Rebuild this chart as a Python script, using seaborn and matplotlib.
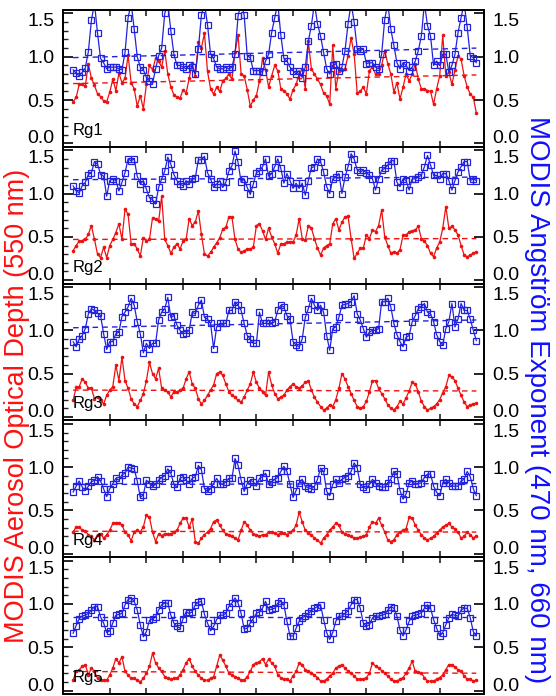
import numpy as np
import pandas as pd
import matplotlib
matplotlib.use('Agg')
import matplotlib.pyplot as plt
import seaborn as sns
from matplotlib.ticker import MultipleLocator, FormatStrFormatter

sns.set_theme(style='ticks')
plt.rcParams['font.family'] = ['Liberation Sans Narrow', 'Liberation Sans', 'DejaVu Sans']

# monthly index, 133 months
months = np.arange(133)
regions = ['Rg1', 'Rg2', 'Rg3', 'Rg4', 'Rg5']

# MODIS AOD (550 nm), red
aod_rg1 = [0.48, 0.53, 0.68, 0.68, 0.66, 0.92, 0.75, 0.67, 0.57, 0.54, 0.49, 0.48,
           0.59, 0.74, 0.61, 0.81, 0.70, 0.75, 1.02, 0.70, 0.63, 0.43, 0.55, 0.40,
           0.68, 0.90, 0.85, 0.98, 0.95, 0.88, 1.07, 0.80, 0.65, 0.56, 0.53, 0.52,
           0.62, 0.58, 0.75, 0.93, 0.78, 1.17, 1.10, 1.27, 0.83, 0.63, 0.57, 0.65,
           0.60, 0.72, 0.75, 0.80, 0.74, 1.05, 1.25, 0.80, 0.78, 0.62, 0.43, 0.50,
           0.55, 0.72, 0.98, 0.85, 0.65, 0.78, 0.90, 0.84, 0.63, 0.61, 0.57, 0.51,
           0.62, 0.68, 0.80, 0.86, 0.63, 1.18, 0.86, 0.80, 0.74, 0.68, 0.58, 0.55,
           0.45, 1.13, 0.63, 0.84, 0.85, 0.86, 1.01, 1.22, 1.03, 0.58, 0.60, 0.65,
           0.57, 0.84, 0.88, 0.80, 0.80, 0.90, 1.07, 0.92, 0.80, 0.59, 0.70, 0.51,
           0.65, 0.80, 0.72, 0.80, 0.92, 0.74, 0.63, 0.63, 0.61, 0.60, 0.45, 0.63,
           0.78, 1.25, 0.78, 0.82, 0.68, 0.85, 1.01, 0.97, 0.78, 0.65, 0.57, 0.53,
           0.35]
aod_rg2 = [0.34, 0.40, 0.45, 0.45, 0.47, 0.53, 0.63, 0.47, 0.30, 0.26, 0.38, 0.26,
           0.40, 0.47, 0.55, 0.65, 0.47, 0.82, 0.76, 0.42, 0.42, 0.36, 0.28, 0.49,
           0.45, 0.47, 0.72, 0.71, 0.68, 0.97, 0.47, 0.40, 0.31, 0.38, 0.42, 0.36,
           0.45, 0.47, 0.71, 0.63, 0.67, 0.80, 0.53, 0.30, 0.28, 0.32, 0.38, 0.43,
           0.49, 0.59, 0.61, 0.73, 0.73, 0.47, 0.36, 0.32, 0.34, 0.36, 0.36, 0.38,
           0.63, 0.65, 0.57, 0.47, 0.60, 0.50, 0.42, 0.31, 0.42, 0.42, 0.44, 0.44,
           0.44, 0.52, 0.71, 0.48, 0.46, 0.63, 0.60, 0.48, 0.37, 0.29, 0.37, 0.40,
           0.42, 0.65, 0.71, 0.58, 0.67, 0.73, 0.74, 0.48, 0.25, 0.31, 0.37, 0.37,
           0.52, 0.48, 0.58, 0.56, 0.63, 0.81, 0.50, 0.40, 0.31, 0.33, 0.31, 0.35,
           0.52, 0.52, 0.56, 0.57, 0.58, 0.62, 0.48, 0.45, 0.40, 0.31, 0.27, 0.37,
           0.44, 0.60, 0.85, 0.60, 0.62, 0.58, 0.52, 0.40, 0.29, 0.27, 0.29, 0.31,
           0.33]
aod_rg3 = [0.19, 0.34, 0.35, 0.44, 0.40, 0.33, 0.33, 0.21, 0.23, 0.19, 0.15, 0.25,
           0.31, 0.35, 0.60, 0.42, 0.69, 0.42, 0.33, 0.21, 0.15, 0.12, 0.19, 0.27,
           0.42, 0.63, 0.50, 0.44, 0.56, 0.33, 0.31, 0.29, 0.23, 0.29, 0.29, 0.31,
           0.33, 0.44, 0.52, 0.38, 0.33, 0.21, 0.15, 0.19, 0.25, 0.31, 0.37, 0.50,
           0.52, 0.48, 0.38, 0.29, 0.25, 0.23, 0.19, 0.17, 0.23, 0.31, 0.38, 0.52,
           0.40, 0.33, 0.29, 0.25, 0.52, 0.37, 0.27, 0.21, 0.23, 0.25, 0.31, 0.35,
           0.38, 0.35, 0.33, 0.36, 0.40, 0.42, 0.31, 0.23, 0.17, 0.12, 0.08, 0.10,
           0.14, 0.12, 0.20, 0.33, 0.50, 0.44, 0.35, 0.27, 0.19, 0.12, 0.10, 0.12,
           0.18, 0.29, 0.42, 0.42, 0.33, 0.27, 0.21, 0.14, 0.10, 0.08, 0.12, 0.18,
           0.15, 0.22, 0.30, 0.40, 0.38, 0.29, 0.18, 0.12, 0.08, 0.10, 0.12, 0.15,
           0.20, 0.28, 0.35, 0.48, 0.46, 0.42, 0.33, 0.25, 0.17, 0.12, 0.14, 0.15,
           0.16]
aod_rg4 = [0.25, 0.31, 0.31, 0.27, 0.26, 0.22, 0.20, 0.16, 0.22, 0.23, 0.18, 0.22,
           0.27, 0.35, 0.36, 0.36, 0.33, 0.25, 0.22, 0.15, 0.25, 0.27, 0.25, 0.31,
           0.45, 0.42, 0.25, 0.14, 0.23, 0.21, 0.23, 0.23, 0.23, 0.25, 0.27, 0.35,
           0.41, 0.41, 0.31, 0.40, 0.14, 0.12, 0.18, 0.22, 0.25, 0.29, 0.37, 0.39,
           0.33, 0.27, 0.23, 0.22, 0.20, 0.18, 0.16, 0.27, 0.37, 0.33, 0.27, 0.23,
           0.22, 0.20, 0.22, 0.22, 0.25, 0.25, 0.24, 0.22, 0.24, 0.24, 0.22, 0.25,
           0.27, 0.33, 0.48, 0.37, 0.27, 0.24, 0.22, 0.18, 0.16, 0.12, 0.18, 0.22,
           0.27, 0.31, 0.35, 0.33, 0.25, 0.23, 0.22, 0.20, 0.18, 0.18, 0.19, 0.20,
           0.22, 0.31, 0.37, 0.35, 0.41, 0.33, 0.25, 0.16, 0.14, 0.16, 0.22, 0.25,
           0.27, 0.29, 0.42, 0.41, 0.33, 0.27, 0.22, 0.18, 0.16, 0.18, 0.20, 0.24,
           0.27, 0.31, 0.33, 0.35, 0.31, 0.28, 0.25, 0.18, 0.20, 0.25, 0.22, 0.18,
           0.21]
aod_rg5 = [0.12, 0.22, 0.24, 0.28, 0.30, 0.18, 0.26, 0.22, 0.14, 0.12, 0.12, 0.12,
           0.18, 0.26, 0.37, 0.32, 0.39, 0.22, 0.18, 0.14, 0.14, 0.12, 0.10, 0.14,
           0.20, 0.28, 0.43, 0.32, 0.26, 0.22, 0.16, 0.14, 0.13, 0.14, 0.14, 0.18,
           0.24, 0.32, 0.37, 0.28, 0.22, 0.18, 0.14, 0.12, 0.12, 0.14, 0.16, 0.28,
           0.41, 0.35, 0.28, 0.20, 0.18, 0.16, 0.14, 0.12, 0.12, 0.16, 0.22, 0.30,
           0.32, 0.33, 0.37, 0.30, 0.36, 0.32, 0.28, 0.18, 0.15, 0.13, 0.13, 0.11,
           0.17, 0.22, 0.32, 0.30, 0.24, 0.22, 0.20, 0.18, 0.15, 0.11, 0.11, 0.13,
           0.17, 0.20, 0.26, 0.28, 0.30, 0.26, 0.22, 0.20, 0.17, 0.13, 0.13, 0.13,
           0.15, 0.20, 0.32, 0.28, 0.26, 0.23, 0.20, 0.17, 0.13, 0.11, 0.11, 0.13,
           0.15, 0.20, 0.26, 0.34, 0.22, 0.21, 0.20, 0.15, 0.11, 0.11, 0.11, 0.13,
           0.15, 0.18, 0.24, 0.30, 0.30, 0.27, 0.24, 0.22, 0.17, 0.13, 0.13, 0.11,
           0.12]

# MODIS Angstrom exponent (470/660 nm), blue
ae_rg1 = [0.85, 0.81, 0.78, 0.82, 0.87, 1.06, 1.42, 1.62, 1.27, 0.98, 0.93, 0.86,
          0.88, 0.88, 0.88, 0.86, 0.85, 1.05, 1.45, 1.62, 1.32, 1.00, 0.88, 0.85,
          0.76, 0.72, 0.69, 0.86, 1.01, 1.10, 1.50, 1.62, 1.30, 1.03, 0.90, 0.90,
          0.88, 0.86, 0.90, 0.88, 0.80, 1.09, 1.48, 1.62, 1.37, 1.03, 0.98, 0.88,
          0.86, 0.86, 0.88, 0.86, 0.88, 1.03, 1.47, 1.62, 1.48, 1.01, 0.99, 0.84,
          0.84, 0.84, 0.82, 0.95, 1.03, 1.28, 1.45, 1.62, 1.25, 0.98, 0.95, 0.88,
          0.84, 0.80, 0.84, 0.76, 0.88, 1.18, 1.36, 1.62, 1.38, 1.24, 1.05, 0.86,
          0.80, 0.90, 0.92, 0.84, 0.88, 1.07, 1.38, 1.62, 1.40, 1.09, 1.07, 1.09,
          0.92, 0.93, 0.93, 0.88, 0.86, 1.03, 1.43, 1.62, 1.32, 1.13, 0.93, 0.86,
          0.93, 0.90, 0.84, 0.88, 0.95, 1.07, 1.24, 1.62, 1.36, 1.24, 0.90, 0.95,
          0.90, 1.03, 1.03, 0.82, 0.90, 1.03, 1.28, 1.45, 1.62, 1.34, 1.01, 0.99,
          0.93]
ae_rg2 = [1.09, 1.03, 1.01, 1.09, 1.13, 1.22, 1.24, 1.37, 1.34, 1.22, 1.20, 0.97,
          1.15, 1.17, 1.15, 1.03, 1.13, 1.24, 1.40, 1.38, 1.40, 1.20, 1.11, 1.15,
          1.05, 0.95, 0.93, 0.88, 1.07, 1.17, 1.26, 1.42, 1.34, 1.22, 1.15, 1.11,
          1.09, 1.15, 1.11, 1.17, 1.18, 1.39, 1.39, 1.43, 1.24, 1.17, 1.07, 1.11,
          1.15, 1.07, 1.13, 1.26, 1.32, 1.49, 1.36, 1.13, 1.17, 1.07, 0.99, 1.11,
          1.24, 1.26, 1.31, 1.40, 1.20, 1.23, 1.31, 1.40, 1.29, 1.12, 1.23, 1.15,
          1.06, 1.12, 1.06, 1.12, 0.98, 1.15, 1.30, 1.31, 1.40, 1.37, 1.25, 1.08,
          1.00, 1.17, 1.19, 1.23, 1.00, 1.19, 1.31, 1.46, 1.40, 1.27, 1.25, 1.27,
          1.24, 1.21, 1.17, 1.04, 1.17, 1.27, 1.29, 1.33, 1.38, 1.38, 1.13, 1.08,
          1.17, 1.15, 1.04, 1.17, 1.17, 1.19, 1.21, 1.31, 1.44, 1.33, 1.21, 1.21,
          1.17, 1.23, 1.23, 1.15, 1.04, 1.15, 1.25, 1.31, 1.37, 1.37, 1.15, 1.17,
          1.15]
ae_rg3 = [0.87, 0.81, 0.90, 0.94, 1.02, 1.19, 1.25, 1.23, 1.20, 1.17, 0.96, 0.78,
          0.87, 0.87, 0.96, 0.98, 1.16, 1.21, 1.27, 1.37, 1.29, 1.10, 0.96, 0.74,
          0.85, 0.79, 0.85, 0.85, 1.12, 1.21, 1.25, 1.38, 1.15, 1.17, 1.06, 1.00,
          0.96, 0.97, 1.00, 1.21, 1.19, 1.29, 1.35, 1.15, 1.13, 1.08, 0.79, 1.04,
          1.08, 1.08, 1.08, 1.23, 1.23, 1.33, 1.29, 1.23, 1.08, 0.94, 0.90, 0.85,
          0.85, 1.21, 1.08, 1.08, 1.12, 1.08, 1.10, 1.23, 1.29, 1.27, 1.17, 1.13,
          0.87, 0.83, 0.81, 0.90, 1.15, 1.25, 1.37, 1.29, 1.23, 1.29, 1.21, 0.94,
          0.77, 1.02, 1.04, 1.15, 1.29, 1.30, 1.31, 1.33, 1.40, 1.19, 1.12, 1.02,
          0.92, 0.98, 1.00, 1.00, 1.02, 1.33, 1.33, 1.37, 1.27, 1.08, 0.95, 0.87,
          0.81, 0.92, 0.94, 1.10, 1.17, 1.25, 1.27, 1.31, 1.21, 1.19, 1.10, 0.95,
          0.87, 0.83, 1.02, 1.10, 1.31, 1.04, 1.13, 1.31, 1.23, 1.23, 1.13, 1.00,
          0.88]
ae_rg4 = [0.71, 0.78, 0.84, 0.77, 0.73, 0.78, 0.83, 0.85, 0.89, 0.84, 0.75, 0.66,
          0.75, 0.81, 0.87, 0.85, 0.91, 0.93, 1.00, 0.99, 0.98, 0.84, 0.65, 0.68,
          0.85, 0.81, 0.78, 0.80, 0.85, 0.88, 0.90, 0.98, 0.93, 0.80, 0.77, 0.87,
          0.89, 0.85, 0.81, 0.87, 0.89, 1.02, 0.97, 0.75, 0.72, 0.75, 0.81, 0.87,
          0.81, 0.80, 0.83, 0.87, 0.87, 1.10, 1.02, 0.85, 0.72, 0.81, 0.85, 0.83,
          0.78, 0.87, 0.89, 0.93, 0.80, 0.83, 0.86, 0.88, 0.95, 1.01, 0.95, 0.80,
          0.65, 0.73, 0.82, 0.86, 0.78, 0.76, 0.75, 0.78, 0.86, 0.99, 0.95, 0.72,
          0.67, 0.80, 0.86, 0.82, 0.86, 0.88, 0.90, 0.95, 1.05, 0.99, 0.80, 0.77,
          0.75, 0.80, 0.86, 0.82, 0.78, 0.77, 0.77, 0.82, 0.86, 0.95, 0.92, 0.73,
          0.63, 0.69, 0.82, 0.84, 0.80, 0.81, 0.82, 0.88, 0.92, 0.92, 0.78, 0.71,
          0.67, 0.82, 0.86, 0.82, 0.78, 0.78, 0.78, 0.84, 0.86, 0.95, 0.89, 0.75,
          0.67]
ae_rg5 = [0.66, 0.75, 0.83, 0.86, 0.87, 0.89, 0.93, 0.97, 0.97, 0.85, 0.78, 0.67,
          0.69, 0.78, 0.87, 0.88, 0.89, 0.99, 1.05, 1.07, 1.03, 0.93, 0.76, 0.62,
          0.68, 0.81, 0.83, 0.85, 0.93, 0.99, 1.01, 1.01, 0.87, 0.78, 0.74, 0.72,
          0.83, 0.91, 0.89, 0.91, 0.99, 1.02, 1.03, 0.88, 0.78, 0.69, 0.74, 0.82,
          0.87, 0.87, 0.89, 0.97, 1.01, 1.07, 1.01, 0.89, 0.71, 0.72, 0.78, 0.83,
          0.89, 0.91, 0.95, 1.03, 0.93, 0.94, 0.95, 1.01, 1.03, 0.99, 0.80, 0.63,
          0.63, 0.72, 0.80, 0.84, 0.86, 0.89, 0.92, 0.95, 0.97, 0.99, 0.82, 0.67,
          0.59, 0.67, 0.80, 0.86, 0.86, 0.89, 0.92, 0.99, 1.05, 1.05, 0.95, 0.78,
          0.74, 0.76, 0.84, 0.86, 0.86, 0.87, 0.88, 0.93, 0.97, 0.95, 0.86, 0.70,
          0.63, 0.70, 0.80, 0.86, 0.87, 0.88, 0.90, 0.95, 0.99, 0.95, 0.82, 0.72,
          0.63, 0.67, 0.76, 0.84, 0.88, 0.87, 0.86, 0.93, 0.95, 0.95, 0.84, 0.68,
          0.63]

# dashed trend lines: value at first and last month
aod_trend_start = [0.69, 0.47, 0.31, 0.26, 0.22]
aod_trend_end = [0.79, 0.48, 0.30, 0.25, 0.20]
ae_trend_start = [0.99, 1.16, 1.03, 0.80, 0.85]
ae_trend_end = [1.10, 1.19, 1.12, 0.81, 0.85]

y_ticks = [0.0, 0.5, 1.0, 1.5]
x_ticks = [12, 24, 36, 48, 60, 72, 84, 96, 108, 120]

aod_all = [aod_rg1, aod_rg2, aod_rg3, aod_rg4, aod_rg5]
ae_all = [ae_rg1, ae_rg2, ae_rg3, ae_rg4, ae_rg5]

red = '#ee1111'
blue = '#2222dd'
W, H = 556, 696
fig = plt.figure(figsize=(W / 100, H / 100), dpi=100)

left_px, right_px, top_px, panel_px = 63, 484, 10, 136.8
ylim = (-0.04, 1.54)

for i, name in enumerate(regions):
    df = pd.DataFrame({'month': months, 'aod': aod_all[i], 'ae': ae_all[i]})
    bottom = 1 - (top_px + panel_px * (i + 1)) / H
    ax = fig.add_axes([left_px / W, bottom, (right_px - left_px) / W, panel_px / H])
    ax2 = ax.twinx()

    sns.lineplot(data=df, x='month', y='aod', ax=ax, color=red, lw=0.9,
                 marker='o', markersize=2.6, markerfacecolor=red,
                 markeredgecolor=red, markeredgewidth=0)
    ax.plot([months[0], months[-1]], [aod_trend_start[i], aod_trend_end[i]],
            color=red, lw=1.0, ls='--', dashes=(4, 3))

    sns.lineplot(data=df, x='month', y='ae', ax=ax2, color=blue, lw=0.9,
                 marker='s', markersize=4.6, markerfacecolor='none',
                 markeredgecolor=blue, markeredgewidth=0.9)
    ax2.plot([months[0], months[-1]], [ae_trend_start[i], ae_trend_end[i]],
             color=blue, lw=1.0, ls='--', dashes=(4, 3))

    for a in (ax, ax2):
        a.set_ylim(*ylim)
        a.set_xlim(-3.3, 134.5)
        a.set_xlabel('')
        a.set_ylabel('')
        a.set_yticks(y_ticks)
        a.yaxis.set_major_formatter(FormatStrFormatter('%.1f'))
        a.tick_params(axis='y', which='major', direction='in', length=7,
                      width=1.2, labelsize=14, colors='black', pad=6)
        for s in a.spines.values():
            s.set_linewidth(1.3)
            s.set_color('black')

    ax.yaxis.set_minor_locator(MultipleLocator(0.1))
    ax.tick_params(axis='y', which='minor', direction='in', length=3.5, width=1.0,
                   left=True, right=False)
    ax.tick_params(axis='y', which='both', left=True, right=False)
    ax2.tick_params(axis='y', which='both', left=False, right=True)

    # keep the end labels inside their own panel, like the original
    lt = ax.yaxis.get_major_ticks()
    lt[0].label1.set_verticalalignment('baseline')
    lt[-1].label1.set_verticalalignment('top')
    rt = ax2.yaxis.get_major_ticks()
    rt[0].label2.set_verticalalignment('baseline')
    rt[-1].label2.set_verticalalignment('top')

    ax.set_xticks(x_ticks)
    ax.tick_params(axis='x', which='major', direction='in', length=4, width=1.2,
                   top=True, bottom=True, labelbottom=False, labeltop=False)
    ax.tick_params(axis='x', which='minor', bottom=False, top=False)

    ax.text(0.024, 0.12, name, transform=ax.transAxes, fontsize=12,
            va='center', ha='left', color='black')

fig.text(17 / W, 1 - 406 / H, 'MODIS Aerosol Optical Depth (550 nm)', color='#ff1010',
         rotation=90, ha='center', va='center', fontsize=19.5,
         family=['Liberation Sans', 'DejaVu Sans'])
fig.text(537 / W, 1 - 400 / H, 'MODIS Angström Exponent (470 nm, 660 nm)', color='#1010ff',
         rotation=-90, ha='center', va='center', fontsize=20,
         family=['Liberation Sans', 'DejaVu Sans'])

fig.savefig('out.png', dpi=100)
